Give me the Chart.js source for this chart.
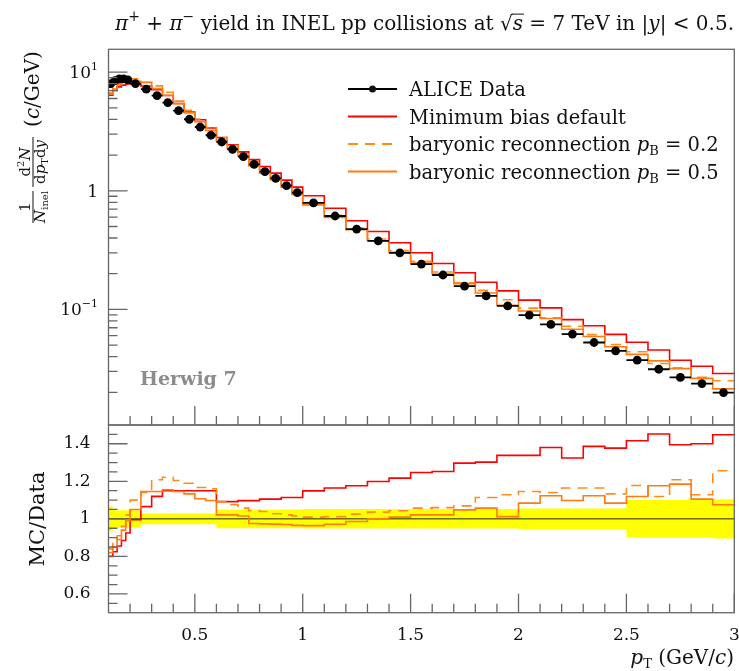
<!DOCTYPE html>
<html>
<head>
<meta charset="utf-8">
<script src="https://cdn.jsdelivr.net/npm/chart.js@4.4.0/dist/chart.umd.min.js"></script>
<style>
  html, body { margin: 0; padding: 0; background: #fff; }
  #wrap { position: relative; width: 739px; height: 671px; }
  #wrap canvas { position: absolute; left: 0; top: 0; }
</style>
</head>
<body>
<div id="wrap">
  <canvas id="mainChart" width="739" height="671"></canvas>
  <canvas id="ratioChart" width="739" height="671"></canvas>
</div>
<script>
const serif = '"DejaVu Serif", "Liberation Serif", serif';

// pT bin edges (GeV/c)
const binEdges = [0.10, 0.12, 0.14, 0.16, 0.18, 0.20, 0.25, 0.30, 0.35, 0.40, 0.45, 0.50, 0.55, 0.60,
  0.65, 0.70, 0.75, 0.80, 0.85, 0.90, 0.95, 1.00, 1.1, 1.2, 1.3, 1.4, 1.5, 1.6, 1.7, 1.8, 1.9, 2.0,
  2.1, 2.2, 2.3, 2.4, 2.5, 2.6, 2.7, 2.8, 2.9, 3.0];

// ALICE pi+ + pi- yield, 1/N dN/dpTdy (c/GeV)
const dataYield = [8.0, 8.5, 8.8, 8.8, 8.6, 8.0, 7.19, 6.35, 5.54, 4.74, 4.01, 3.45, 2.94, 2.58,
  2.24, 1.94, 1.67, 1.45, 1.275, 1.104, 0.964, 0.79, 0.613, 0.476, 0.379, 0.300, 0.241, 0.195,
  0.157, 0.130, 0.107, 0.0895, 0.0747, 0.0619, 0.0526, 0.0447, 0.0373, 0.0313, 0.0267, 0.0237, 0.0199];

// MC / Data per bin
const ratioDefault = [0.80, 0.825, 0.855, 0.885, 0.925, 0.995, 1.065, 1.12, 1.15, 1.15, 1.15, 1.15,
  1.15, 1.092, 1.092, 1.097, 1.097, 1.105, 1.105, 1.114, 1.114, 1.149, 1.164, 1.176, 1.199, 1.217,
  1.247, 1.252, 1.297, 1.302, 1.338, 1.338, 1.38, 1.324, 1.386, 1.377, 1.416, 1.452, 1.395, 1.40, 1.448];
const ratioPB02 = [0.84, 0.87, 0.91, 0.96, 1.02, 1.10, 1.14, 1.208, 1.222, 1.204, 1.19, 1.167, 1.16,
  1.092, 1.075, 1.057, 1.044, 1.039, 1.027, 1.021, 1.016, 1.009, 1.012, 1.025, 1.036, 1.043, 1.057,
  1.06, 1.069, 1.114, 1.128, 1.146, 1.14, 1.164, 1.164, 1.133, 1.178, 1.119, 1.208, 1.128, 1.256];
const ratioPB05 = [0.82, 0.85, 0.89, 0.94, 0.99, 1.05, 1.146, 1.146, 1.155, 1.146, 1.133, 1.107, 1.098,
  1.021, 1.021, 1.015, 0.975, 0.973, 0.972, 0.970, 0.965, 0.964, 0.971, 0.986, 1.0, 1.009, 1.021,
  1.021, 1.048, 1.057, 1.012, 1.084, 1.123, 1.098, 1.123, 1.084, 1.119, 1.176, 1.185, 1.105, 1.075];

// data uncertainty (half width of the yellow band)
const bandHalf = [0.066, 0.046, 0.046, 0.046, 0.046, 0.046, 0.029, 0.029, 0.029, 0.029, 0.029, 0.029,
  0.029, 0.05, 0.05, 0.05, 0.05, 0.05, 0.05, 0.05, 0.05, 0.052, 0.052, 0.052, 0.052, 0.052, 0.052,
  0.052, 0.052, 0.052, 0.052, 0.055, 0.055, 0.055, 0.055, 0.055, 0.1, 0.1, 0.1, 0.1, 0.105];

const xTicks = [0.5, 1, 1.5, 2, 2.5, 3];
const yTicksMain = [0.1, 1, 10];
const yTicksRatio = [0.6, 0.8, 1, 1.2, 1.4];

const colDefault = '#ff0000';
const colPB02 = '#ff8c1a';
const colPB05 = '#ff7a10';
const colBand = '#ffff00';

// histogram as stepped line through the bin edges
function stepPoints(vals) {
  const pts = vals.map((v, i) => ({ x: binEdges[i], y: v }));
  pts.push({ x: binEdges[binEdges.length - 1], y: vals[vals.length - 1] });
  return pts;
}

const yieldDefault = dataYield.map((d, i) => d * ratioDefault[i]);
const yieldPB02 = dataYield.map((d, i) => d * ratioPB02[i]);
const yieldPB05 = dataYield.map((d, i) => d * ratioPB05[i]);

const dataPoints = dataYield.map((v, i) => ({ x: (binEdges[i] + binEdges[i + 1]) / 2, y: v }));
const dataBars = [];
dataYield.forEach((v, i) => {
  dataBars.push({ x: binEdges[i], y: v }, { x: binEdges[i + 1], y: v }, { x: binEdges[i + 1], y: null });
});

function richText(ctx, parts, x, y, align) {
  const fontFor = p => (p.b ? 'bold ' : '') + (p.i ? 'italic ' : '') + (p.s || 20) + 'px ' + serif;
  let total = 0;
  parts.forEach(p => { ctx.font = fontFor(p); p.w = ctx.measureText(p.t).width; total += p.w; });
  let cx = align === 'right' ? x - total : (align === 'center' ? x - total / 2 : x);
  ctx.textAlign = 'left';
  ctx.textBaseline = 'alphabetic';
  parts.forEach(p => {
    ctx.font = fontFor(p);
    ctx.fillText(p.t, cx, y + (p.dy || 0));
    if (p.over) ctx.fillRect(cx - 1, y - (p.s || 20) * 0.82, p.w + 2, 1);
    cx += p.w;
  });
  return total;
}

function drawFrameAndTicks(chart, yMajor, yMinor) {
  const { ctx, chartArea: a } = chart;
  const xs = chart.scales.x, ys = chart.scales.y;
  ctx.save();
  ctx.strokeStyle = '#666';
  ctx.lineWidth = 1.3;
  ctx.beginPath();
  xTicks.forEach(v => {
    const p = xs.getPixelForValue(v);
    ctx.moveTo(p, a.bottom); ctx.lineTo(p, a.bottom - 19);
  });
  for (let k = 2; k <= 29; k++) {
    if (k % 5 === 0) continue;
    const p = xs.getPixelForValue(k / 10);
    ctx.moveTo(p, a.bottom); ctx.lineTo(p, a.bottom - 9);
  }
  yMajor.forEach(v => {
    const p = ys.getPixelForValue(v);
    ctx.moveTo(a.left, p); ctx.lineTo(a.left + 19, p);
  });
  yMinor.forEach(v => {
    if (v < ys.min || v > ys.max) return;
    const p = ys.getPixelForValue(v);
    ctx.moveTo(a.left, p); ctx.lineTo(a.left + 9, p);
  });
  ctx.stroke();
  ctx.strokeRect(a.left, a.top, a.right - a.left, a.bottom - a.top);
  ctx.restore();
}

const mainDecor = {
  id: 'mainDecor',
  afterDraw(chart) {
    const { ctx } = chart;
    const minors = [];
    [0.01, 0.1, 1, 10].forEach(d => { for (let k = 2; k <= 9; k++) minors.push(k * d); });
    drawFrameAndTicks(chart, yTicksMain, minors);

    ctx.save();
    ctx.fillStyle = '#111';
    // log tick labels
    const ys = chart.scales.y;
    richText(ctx, [{ t: '10', s: 17 }, { t: '1', s: 11, dy: -8 }], 98, ys.getPixelForValue(10) + 6, 'right');
    richText(ctx, [{ t: '1', s: 17 }], 98, ys.getPixelForValue(1) + 6, 'right');
    richText(ctx, [{ t: '10', s: 17 }, { t: '−1', s: 11, dy: -8 }], 98, ys.getPixelForValue(0.1) + 6, 'right');

    // title
    richText(ctx, [
      { t: 'π', i: 1, s: 20 }, { t: '+', s: 14, dy: -9 }, { t: ' + ', s: 20 }, { t: 'π', i: 1, s: 20 },
      { t: '−', s: 14, dy: -9 }, { t: ' yield in INEL pp collisions at ', s: 20 }, { t: '√', s: 20 },
      { t: 's', i: 1, s: 20, over: 1 }, { t: ' = 7 TeV in |', s: 20 }, { t: 'y', i: 1, s: 20 },
      { t: '| < 0.5.', s: 20 }
    ], 734, 30, 'right');

    // legend
    const lx0 = 348, lx1 = 397, tx = 409;
    const rows = [96, 123.5, 151, 178.5];
    ctx.lineWidth = 1.8;
    ctx.strokeStyle = '#000';
    ctx.beginPath(); ctx.moveTo(lx0, rows[0] - 7); ctx.lineTo(lx1, rows[0] - 7); ctx.stroke();
    ctx.beginPath(); ctx.arc((lx0 + lx1) / 2, rows[0] - 7, 3.5, 0, Math.PI * 2); ctx.fill();
    ctx.strokeStyle = colDefault;
    ctx.beginPath(); ctx.moveTo(lx0, rows[1] - 7); ctx.lineTo(lx1, rows[1] - 7); ctx.stroke();
    ctx.strokeStyle = colPB02;
    ctx.setLineDash([10, 7]);
    ctx.beginPath(); ctx.moveTo(lx0, rows[2] - 7); ctx.lineTo(lx1, rows[2] - 7); ctx.stroke();
    ctx.setLineDash([]);
    ctx.strokeStyle = colPB05;
    ctx.beginPath(); ctx.moveTo(lx0, rows[3] - 7); ctx.lineTo(lx1, rows[3] - 7); ctx.stroke();
    richText(ctx, [{ t: 'ALICE Data', s: 19.5 }], tx, rows[0], 'left');
    richText(ctx, [{ t: 'Minimum bias default', s: 19.5 }], tx, rows[1], 'left');
    richText(ctx, [{ t: 'baryonic reconnection ', s: 19.5 }, { t: 'p', i: 1, s: 19.5 }, { t: 'B', s: 13, dy: 4 },
      { t: ' = 0.2', s: 19.5 }], tx, rows[2], 'left');
    richText(ctx, [{ t: 'baryonic reconnection ', s: 19.5 }, { t: 'p', i: 1, s: 19.5 }, { t: 'B', s: 13, dy: 4 },
      { t: ' = 0.5', s: 19.5 }], tx, rows[3], 'left');

    // generator tag
    ctx.fillStyle = '#8c8c8c';
    richText(ctx, [{ t: 'Herwig 7', b: 1, s: 19 }], 140, 385, 'left');

    // y axis title, rotated
    ctx.fillStyle = '#111';
    ctx.translate(33, 0);
    ctx.rotate(-Math.PI / 2);
    richText(ctx, [{ t: '1', s: 15 }], -207, -3, 'center');
    ctx.fillRect(-223, -0.5, 32, 1);
    richText(ctx, [{ t: 'N', i: 1, s: 15 }, { t: 'inel', s: 10, dy: 3 }], -207, 12, 'center');
    richText(ctx, [{ t: 'd', s: 15 }, { t: '2', s: 10, dy: -6 }, { t: 'N', i: 1, s: 15 }], -162, -3, 'center');
    ctx.fillRect(-187, -0.5, 50, 1);
    richText(ctx, [{ t: 'd', s: 15 }, { t: 'p', i: 1, s: 15 }, { t: 'T', s: 10, dy: 3 }, { t: 'd', s: 15 },
      { t: 'y', i: 1, s: 15 }], -162, 12, 'center');
    richText(ctx, [{ t: '(', s: 20 }, { t: 'c', i: 1, s: 20 }, { t: '/GeV)', s: 20 }], -89, 6, 'center');
    ctx.restore();
  }
};

const ratioDecor = {
  id: 'ratioDecor',
  afterDraw(chart) {
    const { ctx, chartArea: a } = chart;
    const minors = [];
    for (let k = 11; k <= 29; k++) minors.push(k * 0.05);
    drawFrameAndTicks(chart, yTicksRatio, minors);
    ctx.save();
    ctx.fillStyle = '#111';
    const xs = chart.scales.x;
    xTicks.forEach(v => {
      richText(ctx, [{ t: String(v), s: 17 }], xs.getPixelForValue(v), a.bottom + 27, 'center');
    });
    richText(ctx, [{ t: 'p', i: 1, s: 20 }, { t: 'T', s: 13, dy: 4 }, { t: ' (GeV/', s: 20 },
      { t: 'c', i: 1, s: 20 }, { t: ')', s: 20 }], 734, 664, 'right');
    ctx.translate(44, 519);
    ctx.rotate(-Math.PI / 2);
    richText(ctx, [{ t: 'MC/Data', s: 21 }], 0, 0, 'center');
    ctx.restore();
  }
};

new Chart(document.getElementById('mainChart'), {
  type: 'line',
  data: {
    datasets: [
      { label: 'ALICE Data', data: dataPoints, showLine: false, pointRadius: 4.4,
        pointBackgroundColor: '#000', pointBorderWidth: 0 },
      { label: 'ALICE Data bins', data: dataBars, borderColor: '#000', borderWidth: 1.8, pointRadius: 0, spanGaps: false },
      { label: 'baryonic reconnection pB = 0.5', data: stepPoints(yieldPB05), stepped: 'before',
        borderColor: colPB05, borderWidth: 1.6, pointRadius: 0 },
      { label: 'baryonic reconnection pB = 0.2', data: stepPoints(yieldPB02), stepped: 'before',
        borderColor: colPB02, borderWidth: 1.6, borderDash: [10, 7], pointRadius: 0 },
      { label: 'Minimum bias default', data: stepPoints(yieldDefault), stepped: 'before',
        borderColor: colDefault, borderWidth: 1.6, pointRadius: 0 }
    ]
  },
  options: {
    responsive: false,
    animation: false,
    events: [],
    layout: { padding: { left: 0, right: 4.7, top: 49.3, bottom: 246 } },
    plugins: { legend: { display: false }, tooltip: { enabled: false } },
    scales: {
      x: { type: 'linear', min: 0.1, max: 3, display: false },
      y: {
        type: 'logarithmic', min: 0.0106, max: 15.6,
        grid: { display: false }, border: { display: false },
        afterFit: s => { s.width = 108.5; },
        ticks: { display: false }
      }
    }
  },
  plugins: [mainDecor]
});

new Chart(document.getElementById('ratioChart'), {
  type: 'line',
  data: {
    datasets: [
      { label: 'pB = 0.5', data: stepPoints(ratioPB05), stepped: 'before', borderColor: colPB05,
        borderWidth: 1.6, pointRadius: 0 },
      { label: 'pB = 0.2', data: stepPoints(ratioPB02), stepped: 'before', borderColor: colPB02,
        borderWidth: 1.6, borderDash: [10, 7], pointRadius: 0 },
      { label: 'Minimum bias default', data: stepPoints(ratioDefault), stepped: 'before', borderColor: colDefault,
        borderWidth: 1.6, pointRadius: 0 },
      { label: 'unity', data: [{ x: 0.1, y: 1 }, { x: 3, y: 1 }], borderColor: '#222', borderWidth: 1, pointRadius: 0 },
      { label: 'band up', data: stepPoints(bandHalf.map(h => 1 + h)), stepped: 'before', borderWidth: 0,
        pointRadius: 0, fill: '+1', backgroundColor: colBand },
      { label: 'band down', data: stepPoints(bandHalf.map(h => 1 - h)), stepped: 'before', borderWidth: 0,
        pointRadius: 0 }
    ]
  },
  options: {
    responsive: false,
    animation: false,
    events: [],
    layout: { padding: { left: 0, right: 4.7, top: 425, bottom: 0 } },
    plugins: { legend: { display: false }, tooltip: { enabled: false } },
    scales: {
      x: {
        type: 'linear', min: 0.1, max: 3,
        grid: { display: false }, border: { display: false },
        afterFit: s => { s.height = 58.3; },
        ticks: { display: false }
      },
      y: {
        min: 0.5, max: 1.5,
        grid: { display: false }, border: { display: false },
        afterFit: s => { s.width = 108.5; },
        afterBuildTicks: s => { s.ticks = yTicksRatio.map(v => ({ value: v })); },
        ticks: { padding: 10, color: '#111', font: { family: serif, size: 17 },
          callback: v => String(+v.toFixed(2)) }
      }
    }
  },
  plugins: [ratioDecor]
});
</script>
</body>
</html>
